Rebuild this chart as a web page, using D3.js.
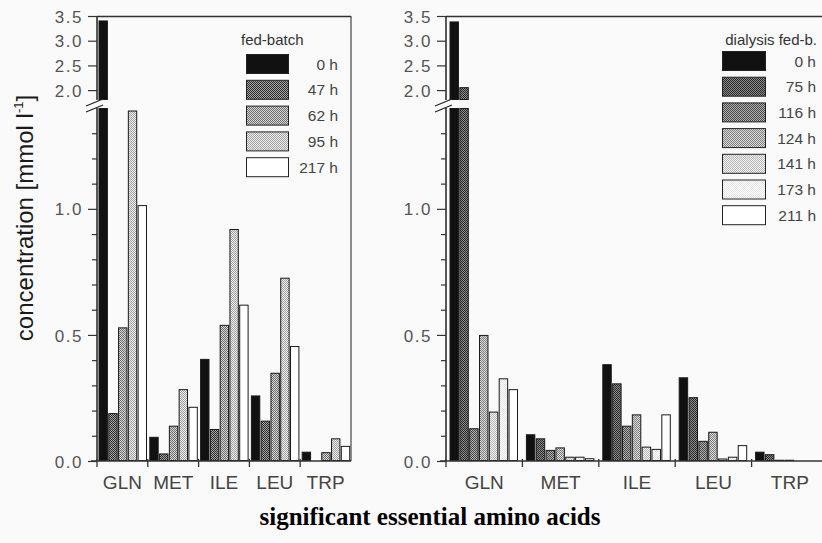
<!DOCTYPE html>
<html><head><meta charset="utf-8">
<script src="https://cdn.jsdelivr.net/npm/d3@7"></script>
<style>
html,body{margin:0;padding:0;background:#fafafa;}
svg{display:block;}
</style></head>
<body>
<svg id="chart" width="822" height="543"></svg>
<script>
// ---------- data ----------
const categories = ["GLN", "MET", "ILE", "LEU", "TRP"];

const fedSeries = ["0 h", "47 h", "62 h", "95 h", "217 h"];
const fed_0h   = [3.41, 0.096, 0.405, 0.26, 0.037];
const fed_47h  = [0.19, 0.030, 0.127, 0.16, 0.0];
const fed_62h  = [0.53, 0.140, 0.540, 0.35, 0.035];
const fed_95h  = [1.39, 0.285, 0.920, 0.727, 0.090];
const fed_217h = [1.015, 0.215, 0.620, 0.456, 0.060];

const diaSeries = ["0 h", "75 h", "116 h", "124 h", "141 h", "173 h", "211 h"];
const dia_0h   = [3.39, 0.106, 0.384, 0.332, 0.037];
const dia_75h  = [2.06, 0.090, 0.308, 0.253, 0.027];
const dia_116h = [0.13, 0.044, 0.140, 0.080, 0.005];
const dia_124h = [0.50, 0.054, 0.185, 0.116, 0.005];
const dia_141h = [0.196, 0.017, 0.057, 0.010, 0.003];
const dia_173h = [0.328, 0.017, 0.048, 0.017, 0.0];
const dia_211h = [0.285, 0.011, 0.185, 0.063, 0.0];

const lowMajorTicks = [0, 0.5, 1.0];
const lowMinorTicks = [0.1, 0.2, 0.3, 0.4, 0.6, 0.7, 0.8, 0.9, 1.1, 1.2, 1.3];
const highTicks = [2.0, 2.5, 3.0, 3.5];

const yLabel = "concentration [mmol l";
const xTitle = "significant essential amino acids";
const fedTitle = "fed-batch";
const diaTitle = "dialysis fed-b.";

// ---------- styles ----------
const fedFills = [["#111","#111"],["#2a2a2a","#a8a8a8"],["#6a6a6a","#dadada"],["#a0a0a0","#efefef"],["#ffffff","#ffffff"]];
const diaFills = [["#111","#111"],["#262626","#8e8e8e"],["#444","#b4b4b4"],["#7a7a7a","#e0e0e0"],["#b8b8b8","#f2f2f2"],["#e4e4e4","#ffffff"],["#ffffff","#ffffff"]];

const svg = d3.select("#chart");
const defs = svg.append("defs");
function makePattern(id, c) {
  const p = defs.append("pattern").attr("id", id).attr("width", 2).attr("height", 2)
    .attr("patternUnits", "userSpaceOnUse");
  p.append("rect").attr("width", 2).attr("height", 2).attr("fill", c[1]);
  p.append("rect").attr("x", 0).attr("y", 0).attr("width", 1).attr("height", 1).attr("fill", c[0]);
  p.append("rect").attr("x", 1).attr("y", 1).attr("width", 1).attr("height", 1).attr("fill", c[0]);
}
fedFills.forEach((c, i) => makePattern("fed" + i, c));
diaFills.forEach((c, i) => makePattern("dia" + i, c));

const yLow = d3.scaleLinear().domain([0, 1.4]).range([461, 108]);
const yHigh = d3.scaleLinear().domain([1.8, 3.5]).range([100, 16]);
const BREAK_LO = 1.4, BREAK_HI = 1.8;

const tickFont = "'Liberation Sans', Arial, sans-serif";

function drawPanel(opt) {
  const g = svg.append("g");
  const x0 = d3.scaleBand().domain(categories).range([opt.x0, opt.x1]);
  const x1 = d3.scaleBand().domain(opt.series).range(opt.inner).paddingInner(0.04);
  const ax = opt.x0;

  // bars
  opt.values.forEach((vals, si) => {
    const fill = "url(#" + opt.pid + si + ")";
    vals.forEach((v, ci) => {
      if (v <= 0) return;
      const bx = x0(categories[ci]) + x1(opt.series[si]);
      const bw = x1.bandwidth();
      const vLow = Math.min(v, BREAK_LO);
      g.append("rect").attr("x", bx + 0.5).attr("y", yLow(vLow) + 0.5)
        .attr("width", bw - 1).attr("height", Math.max(0, yLow(0) - yLow(vLow) - 1))
        .attr("fill", fill).attr("stroke", "#1a1a1a").attr("stroke-width", 1);
      if (v > BREAK_HI) {
        g.append("rect").attr("x", bx + 0.5).attr("y", yHigh(v) + 0.5)
          .attr("width", bw - 1).attr("height", yHigh(BREAK_HI) - yHigh(v) - 1)
          .attr("fill", fill).attr("stroke", "#1a1a1a").attr("stroke-width", 1);
      }
    });
  });

  // frame
  g.append("line").attr("x1", ax).attr("x2", opt.frameRight).attr("y1", 16.5).attr("y2", 16.5)
    .attr("stroke", "#333").attr("stroke-width", 1.3);
  if (opt.rightLine) {
    g.append("line").attr("x1", opt.frameRight).attr("x2", opt.frameRight).attr("y1", 16).attr("y2", 461)
      .attr("stroke", "#444").attr("stroke-width", 1.2);
  }
  // y axis lines (broken)
  g.append("line").attr("x1", ax).attr("x2", ax).attr("y1", yLow(0)).attr("y2", yLow(BREAK_LO))
    .attr("stroke", "#222").attr("stroke-width", 1.5);
  g.append("line").attr("x1", ax).attr("x2", ax).attr("y1", yHigh(3.5)).attr("y2", yHigh(BREAK_HI))
    .attr("stroke", "#222").attr("stroke-width", 1.5);
  // break marks
  [[0], [6]].forEach(([d]) => {
    g.append("line").attr("x1", ax - 11).attr("y1", 106 + d).attr("x2", ax + 6).attr("y2", 99 + d)
      .attr("stroke", "#222").attr("stroke-width", 1.2);
  });

  // y axes
  const axMajorLow = d3.axisLeft(yLow).tickValues(lowMajorTicks).tickFormat(d3.format(".1f")).tickSize(9).tickPadding(5);
  const axMinorLow = d3.axisLeft(yLow).tickValues(lowMinorTicks).tickFormat("").tickSize(5);
  const axHigh = d3.axisLeft(yHigh).tickValues(highTicks).tickFormat(d3.format(".1f")).tickSize(9).tickPadding(5);
  [axMajorLow, axMinorLow, axHigh].forEach(a => {
    const ga = g.append("g").attr("transform", `translate(${ax},0)`).call(a);
    ga.select(".domain").remove();
    ga.selectAll(".tick line").attr("stroke", "#333").attr("stroke-width", 1.2);
    ga.selectAll(".tick text").attr("font-family", tickFont).attr("font-size", 17)
      .attr("letter-spacing", "1.5px").attr("fill", "#555").attr("dy", "0.36em");
  });

  // x axis line
  g.append("line").attr("x1", ax - 6).attr("x2", opt.frameRight).attr("y1", 461).attr("y2", 461)
    .attr("stroke", "#333").attr("stroke-width", 1.4);
  // group boundary ticks
  g.selectAll(".gt").data(categories).enter().append("line")
    .attr("x1", d => x0(d)).attr("x2", d => x0(d)).attr("y1", 459).attr("y2", 467)
    .attr("stroke", "#333").attr("stroke-width", 1.3);
  // category labels
  const axB = d3.axisBottom(x0).tickSize(0).tickPadding(0);
  const gb = g.append("g").attr("transform", "translate(0,461)").call(axB);
  gb.select(".domain").remove();
  gb.selectAll(".tick text").attr("font-family", tickFont).attr("font-size", 19)
    .attr("fill", "#444").attr("dy", "1.45em").attr("y", 0);

  // legend
  const lg = g.append("g");
  lg.append("text").attr("x", opt.legTitleX).attr("y", 45).attr("text-anchor", opt.legTitleAnchor)
    .attr("font-family", tickFont).attr("font-size", 15).attr("fill", "#333").text(opt.title);
  opt.series.forEach((s, i) => {
    const yy = opt.legY0 + i * opt.legStep;
    lg.append("rect").attr("x", opt.legSwX + 0.5).attr("y", yy + 0.5).attr("width", opt.legSwW - 1)
      .attr("height", opt.legSwH - 1).attr("fill", "url(#" + opt.pid + i + ")")
      .attr("stroke", "#222").attr("stroke-width", 1);
    lg.append("text").attr("x", opt.legTextX).attr("y", yy + opt.legSwH / 2 + 5.5)
      .attr("text-anchor", "end").attr("font-family", tickFont).attr("font-size", 15.5)
      .attr("fill", "#444").text(s);
  });
}

drawPanel({
  x0: 97, x1: 351, frameRight: 351, rightLine: true, inner: [1.5, 50],
  series: fedSeries, values: [fed_0h, fed_47h, fed_62h, fed_95h, fed_217h], pid: "fed",
  title: fedTitle, legTitleX: 241, legTitleAnchor: "start",
  legSwX: 246, legSwW: 43, legSwH: 20, legY0: 54, legStep: 25.8, legTextX: 338
});
drawPanel({
  x0: 446, x1: 828, frameRight: 830, rightLine: false, inner: [3.5, 72],
  series: diaSeries, values: [dia_0h, dia_75h, dia_116h, dia_124h, dia_141h, dia_173h, dia_211h], pid: "dia",
  title: diaTitle, legTitleX: 817, legTitleAnchor: "end",
  legSwX: 722, legSwW: 44, legSwH: 20, legY0: 51, legStep: 25.7, legTextX: 816
});

// y axis label
const yl = svg.append("text").attr("transform", "translate(33,218) rotate(-90)")
  .attr("text-anchor", "middle").attr("font-family", tickFont).attr("font-size", 24)
  .attr("fill", "#1a1a1a");
yl.append("tspan").text(yLabel);
yl.append("tspan").attr("font-size", 13).attr("dy", -10).text("-1");
yl.append("tspan").attr("dy", 10).text("]");

// x title
svg.append("text").attr("x", 430).attr("y", 525).attr("text-anchor", "middle")
  .attr("font-family", "'Liberation Serif', 'Times New Roman', serif").attr("font-weight", "bold")
  .attr("font-size", 25).attr("fill", "#000").text(xTitle);
</script>
</body></html>
